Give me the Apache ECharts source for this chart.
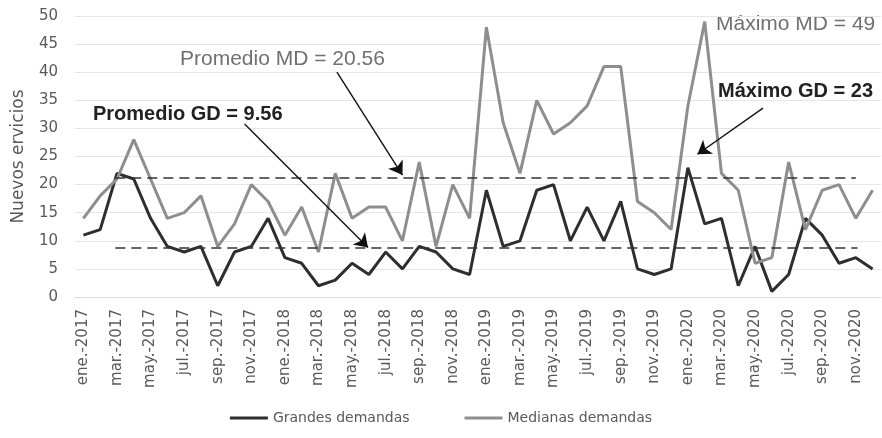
<!DOCTYPE html>
<html>
<head>
<meta charset="utf-8">
<script src="https://cdn.jsdelivr.net/npm/echarts@6/dist/echarts.min.js"></script>
<style>html,body{margin:0;padding:0;background:#fff;}#c{width:882px;height:438px;}</style>
</head>
<body>
<div id="c"></div>
<script>
const monthNames = ['ene.','feb.','mar.','abr.','may.','jun.','jul.','ago.','sep.','oct.','nov.','dic.'];
const years = [2017, 2018, 2019, 2020];
const categories = [];
years.forEach(y => monthNames.forEach(m => categories.push(m + '-' + y)));

const grandesDemandas = [11,12,22,21,14,9,8,9,2,8,9,14, 7,6,2,3,6,4,8,5,9,8,5,4, 19,9,10,19,20,10,16,10,17,5,4,5, 23,13,14,2,9,1,4,14,11,6,7,5];
const medianasDemandas = [14,18,21,28,21,14,15,18,9,13,20,17, 11,16,8,22,14,16,16,10,24,9,20,14, 48,31,22,35,29,31,34,41,41,17,15,12, 34,49,22,19,6,7,24,12,19,20,14,19];

const yTicks = [0,5,10,15,20,25,30,35,40,45,50];

// dashed reference lines (as drawn in the picture) [value, fromIndex, toIndex]
const refLineMD = [21.2, 1.9, 46.0];
const refLineGD = [8.8, 1.9, 46.1];

// arrows: [fromIndex, fromValue, toIndex, toValue]
const arrowMD = [15.1, 40.0, 19.0, 21.7];
const arrowGD = [9.6, 30.8, 16.95, 8.8];
const arrowMaxGD = [40.47, 33.6, 36.57, 25.4];

const labels = [
  {text: 'Promedio MD = 20.56', x: 180, y: 61, bold: false},
  {text: 'Promedio GD = 9.56', x: 93, y: 116, bold: true},
  {text: 'Máximo MD = 49', x: 716, y: 26, bold: false},
  {text: 'Máximo GD = 23', x: 718, y: 93, bold: true}
];

const chart = echarts.init(document.getElementById('c'));

function seg(a, symEnd) {
  return [{coord: [a[0], a[1]], symbol: 'none'}, {coord: [a[2], a[3]], symbol: symEnd}];
}

chart.setOption({
  animation: false,
  backgroundColor: '#fff',
  grid: {left: 75, right: 1, top: 16, bottom: 141, containLabel: false},
  legend: {
    bottom: 8, left: 'center',
    icon: 'rect',
    itemWidth: 38, itemHeight: 3, itemGap: 55,
    textStyle: {fontFamily: 'DejaVu Sans', fontSize: 14, color: '#595959'},
    data: ['Grandes demandas', 'Medianas demandas']
  },
  xAxis: [{
    type: 'category',
    data: categories,
    boundaryGap: true,
    axisLine: {show: true, lineStyle: {color: '#d9d9d9', width: 1}},
    axisTick: {show: false},
    axisLabel: {interval: 1, rotate: 90, margin: 12, fontFamily: 'DejaVu Sans', fontSize: 15, color: '#595959'}
  }, {
    type: 'value', min: -0.5, max: 47.5, show: false
  }],
  yAxis: {
    type: 'value', min: yTicks[0], max: yTicks[yTicks.length - 1], interval: 5,
    name: 'Nuevos ervicios', nameLocation: 'middle', nameGap: 48, nameRotate: 90,
    nameTextStyle: {fontFamily: 'DejaVu Sans', fontSize: 17, color: '#595959'},
    axisLine: {show: false}, axisTick: {show: false},
    axisLabel: {margin: 17, fontFamily: 'DejaVu Sans', fontSize: 15, color: '#595959'},
    splitLine: {lineStyle: {color: '#e6e6e6', width: 1}}
  },
  series: [{
    name: 'Grandes demandas', type: 'line', data: grandesDemandas,
    symbol: 'none', color: '#2e2e2e',
    lineStyle: {color: '#2e2e2e', width: 3}
  }, {
    name: 'Medianas demandas', type: 'line', data: medianasDemandas,
    symbol: 'none', color: '#8e8e8e',
    lineStyle: {color: '#8e8e8e', width: 3}
  }, {
    name: 'annot', type: 'line', xAxisIndex: 1, yAxisIndex: 0, data: [],
    silent: true,
    markLine: {
      silent: true, animation: false,
      label: {show: false},
      symbol: ['none', 'none'],
      lineStyle: {color: '#333', width: 1.6, type: [10, 6]},
      data: [
        [{coord: [refLineMD[1], refLineMD[0]]}, {coord: [refLineMD[2], refLineMD[0]]}],
        [{coord: [refLineGD[1], refLineGD[0]]}, {coord: [refLineGD[2], refLineGD[0]]}]
      ]
    }
  }, {
    name: 'arrows', type: 'line', xAxisIndex: 1, yAxisIndex: 0, data: [],
    silent: true,
    markLine: {
      silent: true, animation: false,
      label: {show: false},
      symbol: ['none', 'arrow'], symbolSize: 13,
      lineStyle: {color: '#111', width: 1.4, type: 'solid'},
      emphasis: {disabled: true},
      data: [seg(arrowMD, 'arrow'), seg(arrowGD, 'arrow'), seg(arrowMaxGD, 'arrow')]
    }
  }],
  graphic: labels.map(l => ({
    type: 'text', left: l.x, top: l.y - 12, silent: true,
    style: {
      text: l.text,
      fontFamily: 'Liberation Sans',
      fontSize: l.bold ? 20 : 21,
      fontWeight: l.bold ? 'bold' : 'normal',
      fill: l.bold ? '#222' : '#707070'
    }
  }))
});
</script>
</body>
</html>
